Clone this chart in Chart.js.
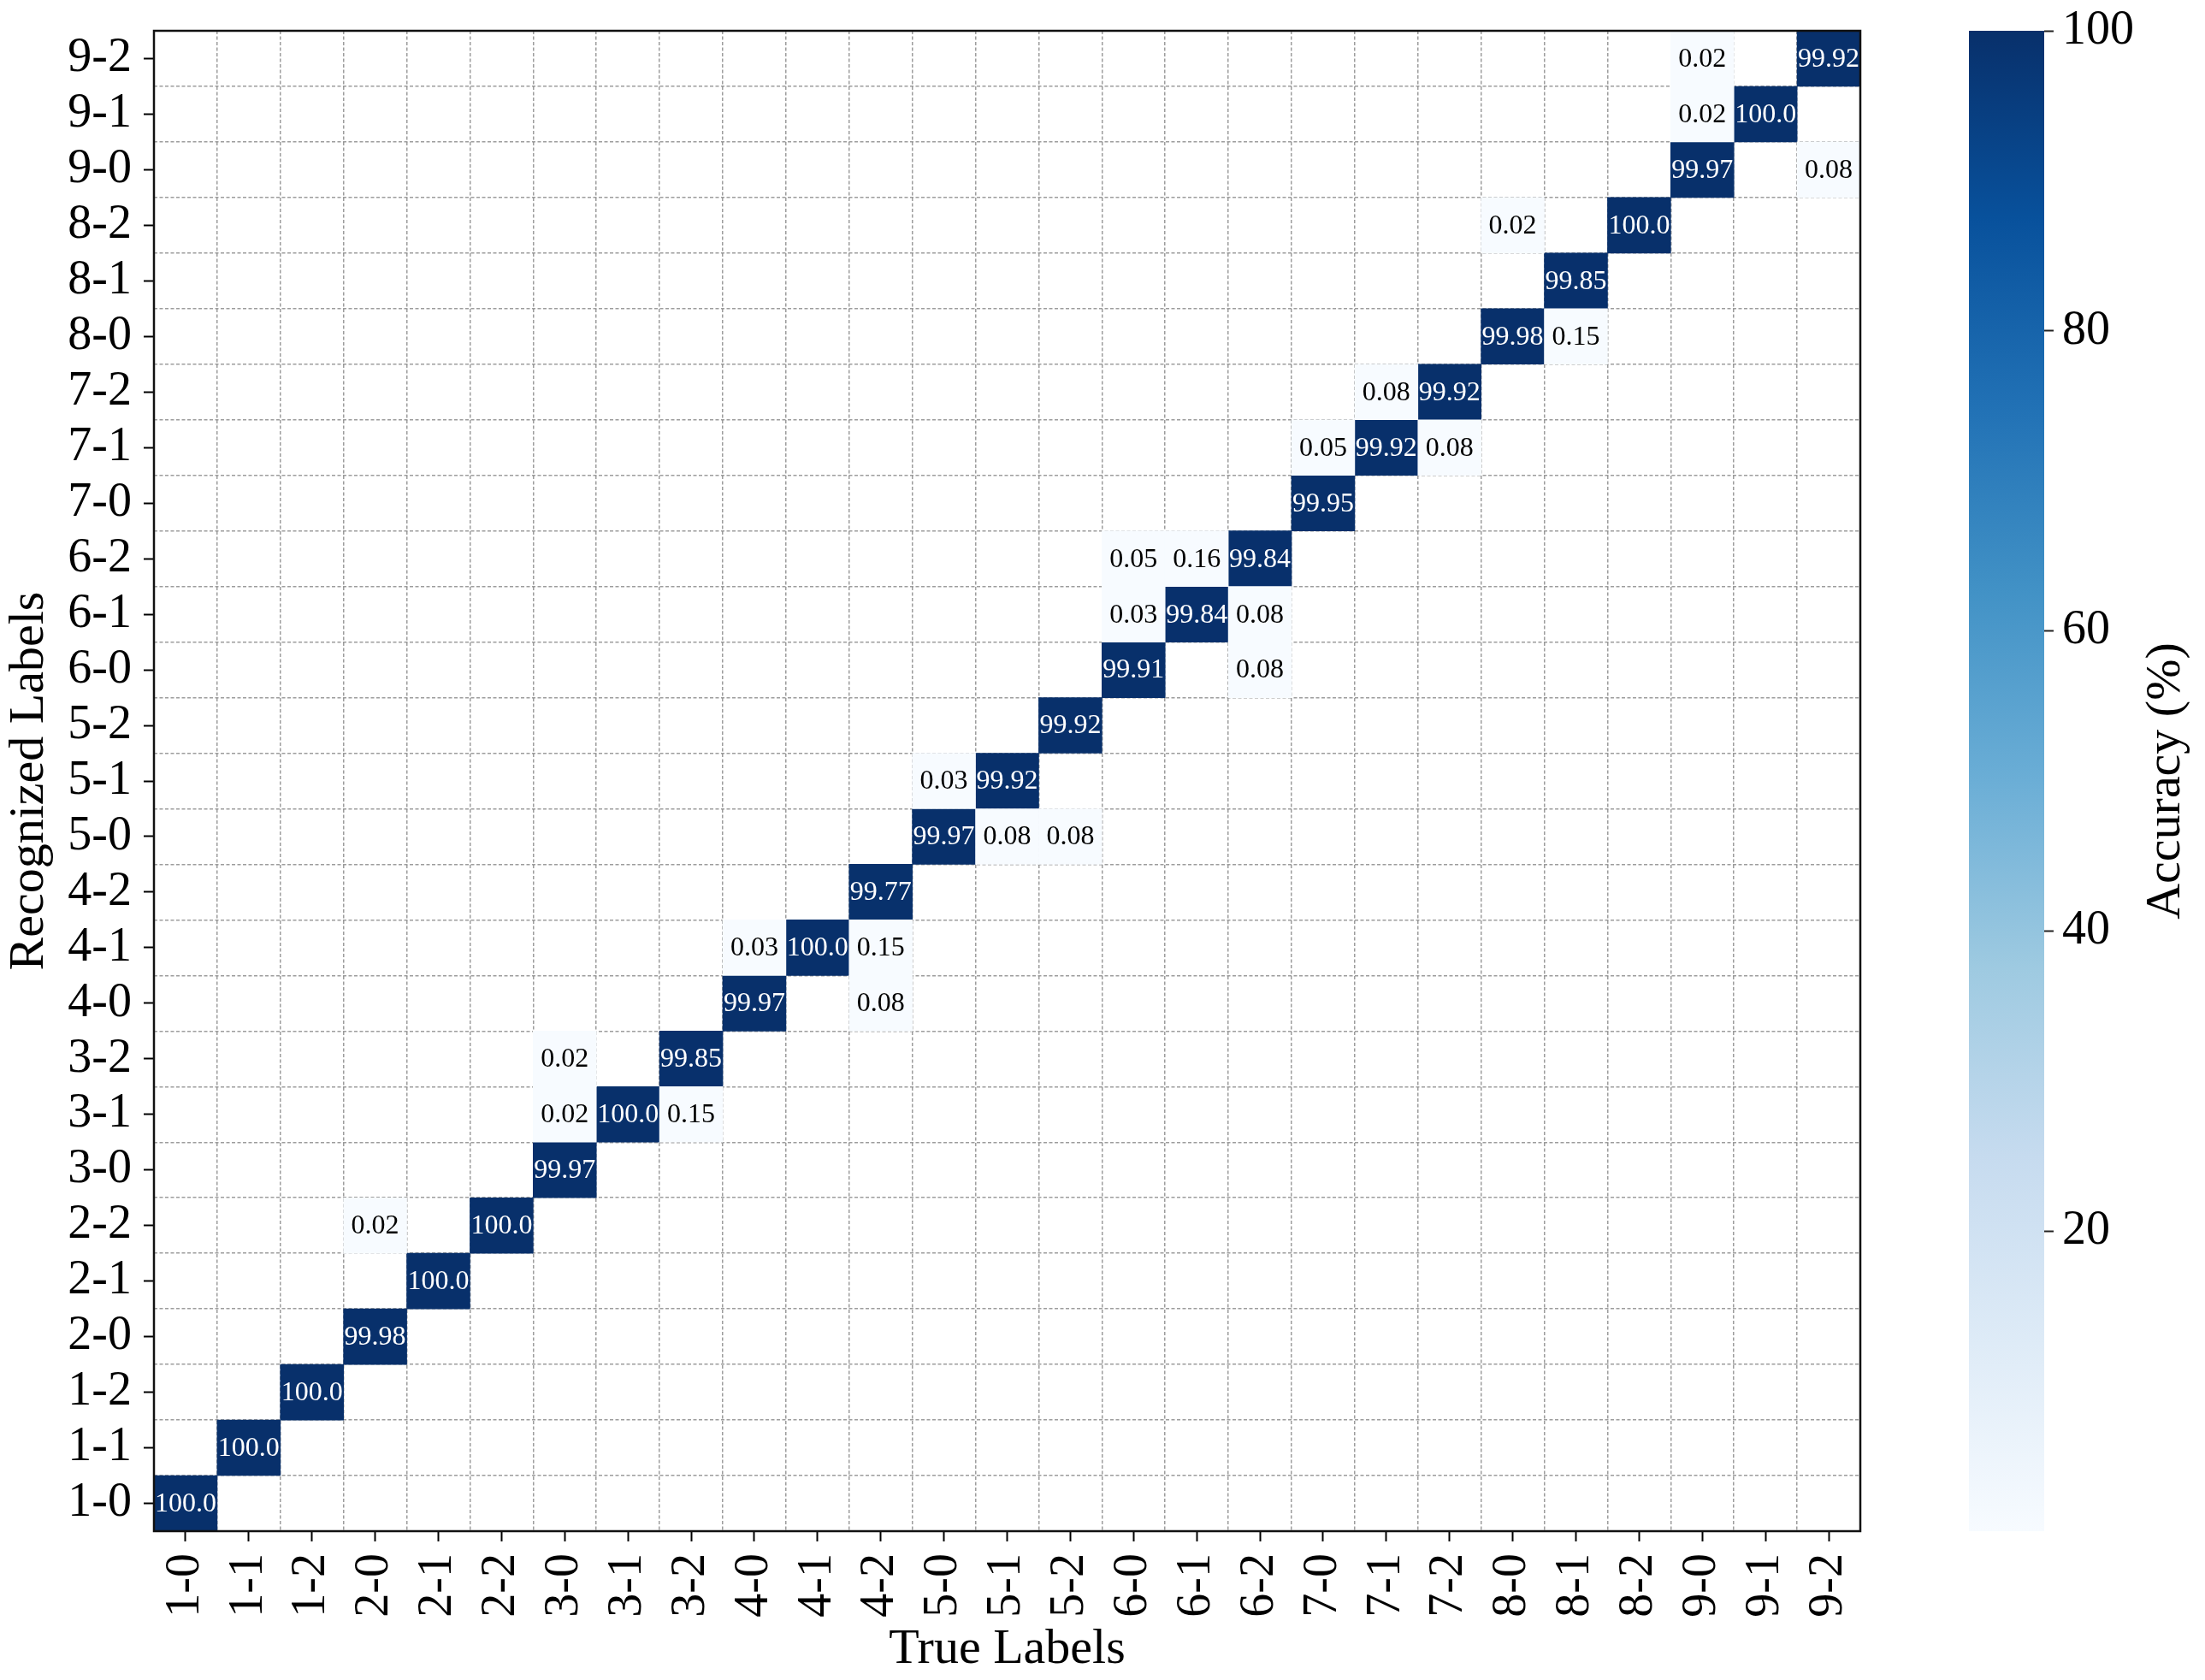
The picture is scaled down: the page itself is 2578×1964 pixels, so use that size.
<!DOCTYPE html>
<html>
<head>
<meta charset="utf-8">
<script src="https://cdn.jsdelivr.net/npm/chart.js@4/dist/chart.umd.min.js"></script>
<style>
  html, body { margin: 0; padding: 0; background: #fff; }
  #wrap { position: relative; width: 2578px; height: 1964px; }
  #cm { position: absolute; left: 0; top: 0; }
  #cb { position: absolute; left: 2200px; top: 0; }
</style>
</head>
<body>
<div id="wrap">
  <canvas id="cm" width="2578" height="1964"></canvas>
  <canvas id="cb" width="378" height="1964"></canvas>
</div>
<script>
// class names, used for both axes (rows go bottom -> top)
const classLabels = ['1-0', '1-1', '1-2', '2-0', '2-1', '2-2', '3-0', '3-1', '3-2',
    '4-0', '4-1', '4-2', '5-0', '5-1', '5-2', '6-0', '6-1', '6-2',
    '7-0', '7-1', '7-2', '8-0', '8-1', '8-2', '9-0', '9-1', '9-2'];

// accuracy on the diagonal, same order as classLabels
const diagonalAccuracy = [100.0, 100.0, 100.0, 99.98, 100.0, 100.0, 99.97, 100.0, 99.85,
    99.97, 100.0, 99.77, 99.97, 99.92, 99.92, 99.91, 99.84, 99.84,
    99.95, 99.92, 99.92, 99.98, 99.85, 100.0, 99.97, 100.0, 99.92];

// misclassifications
const offTrue = ['2-0', '3-0', '3-0', '3-2', '4-0', '4-2', '4-2', '5-0', '5-1', '5-2',
    '6-0', '6-1', '6-0', '6-2', '6-2', '7-0', '7-1', '7-2', '8-0', '8-1', '9-0', '9-0', '9-2'];
const offRecognized = ['2-2', '3-2', '3-1', '3-1', '4-1', '4-1', '4-0', '5-1', '5-0', '5-0',
    '6-2', '6-2', '6-1', '6-1', '6-0', '7-1', '7-2', '7-1', '8-2', '8-0', '9-2', '9-1', '9-0'];
const offAccuracy = [0.02, 0.02, 0.02, 0.15, 0.03, 0.15, 0.08, 0.03, 0.08, 0.08,
    0.05, 0.16, 0.03, 0.08, 0.08, 0.05, 0.08, 0.08, 0.02, 0.15, 0.02, 0.02, 0.08];

const colorbarTicks = [20, 40, 60, 80, 100];

// matplotlib "Blues"
const blues = ['#f7fbff', '#deebf7', '#c6dbef', '#9ecae1', '#6baed6', '#4292c6', '#2171b5', '#08519c', '#08306b'];

const FONT = 'Liberation Serif';
Chart.defaults.font.family = FONT;
Chart.defaults.color = '#000';

let cells = [];
classLabels.forEach((lab, i) => {
    cells.push({ x: lab, r: lab, v: diagonalAccuracy[i] });
});
offTrue.forEach((lab, i) => {
    cells.push({ x: lab, r: offRecognized[i], v: offAccuracy[i] });
});

let allValues = cells.map(c => c.v);
let vmin = Math.min(...allValues);
let vmax = 100;

function hexRgb(h) {
    return [parseInt(h.slice(1, 3), 16), parseInt(h.slice(3, 5), 16), parseInt(h.slice(5, 7), 16)];
}
function blueFor(v) {
    let t = (v - vmin) / (vmax - vmin);
    t = Math.max(0, Math.min(1, t));
    let pos = t * (blues.length - 1);
    let i = Math.min(Math.floor(pos), blues.length - 2);
    let f = pos - i;
    let a = hexRgb(blues[i]), b = hexRgb(blues[i + 1]);
    let c = a.map((x, k) => Math.round(x + (b[k] - x) * f));
    return 'rgb(' + c.join(',') + ')';
}
function fmt(v) {
    return Number.isInteger(v) ? v.toFixed(1) : v.toFixed(2);
}

let barData = cells.map(c => {
    let row = classLabels.indexOf(c.r);
    return { x: c.x, y: [row, row + 1] };
});

const gridGrey = 'rgba(140,140,140,0.85)';

const cellText = {
    id: 'cellText',
    afterDatasetsDraw(chart) {
        let ctx = chart.ctx;
        let meta = chart.getDatasetMeta(0);
        ctx.save();
        ctx.font = '32px "' + FONT + '"';
        ctx.textAlign = 'center';
        ctx.textBaseline = 'middle';
        meta.data.forEach((bar, i) => {
            let v = cells[i].v;
            let p = bar.getProps(['x', 'y', 'base'], true);
            ctx.fillStyle = v > 50 ? '#fff' : '#000';
            ctx.fillText(fmt(v), p.x, (p.y + p.base) / 2 + 1);
        });
        ctx.restore();
    }
};

const frame = {
    id: 'frame',
    afterDatasetsDraw(chart) {
        let a = chart.chartArea;
        let ctx = chart.ctx;
        ctx.save();
        ctx.strokeStyle = '#111';
        ctx.lineWidth = 2.5;
        ctx.strokeRect(a.left, a.top, a.right - a.left, a.bottom - a.top);
        ctx.restore();
    }
};

new Chart(document.getElementById('cm').getContext('2d'), {
    type: 'bar',
    data: {
        datasets: [{
            data: barData,
            xAxisID: 'x',
            yAxisID: 'y',
            backgroundColor: cells.map(c => blueFor(c.v)),
            borderWidth: 0,
            barPercentage: 1,
            categoryPercentage: 1,
            grouped: false
        }]
    },
    options: {
        responsive: false,
        animation: false,
        layout: { padding: { left: 0, top: 36, right: 403, bottom: 0 } },
        plugins: { legend: { display: false }, tooltip: { enabled: false } },
        scales: {
            x: {
                type: 'category',
                labels: classLabels,
                position: 'bottom',
                offset: true,
                grid: { offset: false, drawOnChartArea: false, tickLength: 12, tickWidth: 2, tickColor: '#000' },
                border: { display: false },
                ticks: { autoSkip: false, minRotation: 90, maxRotation: 90, padding: 14, font: { size: 56 }, color: '#000' },
                title: { display: true, text: 'True Labels', font: { size: 58 }, color: '#000', padding: { top: 0, bottom: 0 } },
                afterFit(s) { s.height = 174; s.paddingLeft = 0; s.paddingRight = 0; }
            },
            xg: {
                type: 'category',
                labels: classLabels,
                position: 'top',
                offset: true,
                grid: { offset: true, drawTicks: false, color: gridGrey, lineWidth: 1.5 },
                border: { display: false, dash: [4, 2.5] },
                ticks: { display: false },
                afterFit(s) { s.height = 0; s.paddingLeft = 0; s.paddingRight = 0; }
            },
            y: {
                type: 'linear',
                position: 'left',
                min: 0,
                max: classLabels.length,
                ticks: { display: false, stepSize: 1 },
                grid: { drawTicks: false, color: gridGrey, lineWidth: 1.5 },
                border: { display: false, dash: [4, 2.5] },
                afterFit(s) { s.width = 0; s.paddingTop = 0; s.paddingBottom = 0; }
            },
            yl: {
                type: 'category',
                labels: classLabels,
                reverse: true,
                position: 'left',
                offset: true,
                grid: { offset: false, drawOnChartArea: false, tickLength: 12, tickWidth: 2, tickColor: '#000' },
                border: { display: false },
                ticks: { autoSkip: false, padding: 14, font: { size: 56 }, color: '#000' },
                title: { display: true, text: 'Recognized Labels', font: { size: 58 }, color: '#000', padding: { top: 0, bottom: 0 } },
                afterFit(s) { s.width = 180; s.paddingTop = 0; s.paddingBottom = 0; }
            }
        }
    },
    plugins: [cellText, frame]
});

// colour bar
const cbTitle = {
    id: 'cbTitle',
    afterDraw(chart) {
        let ys = chart.scales.y;
        let ctx = chart.ctx;
        ctx.save();
        ctx.translate(ys.right - 45, (ys.top + ys.bottom) / 2);
        ctx.rotate(-Math.PI / 2);
        ctx.font = '58px "' + FONT + '"';
        ctx.textAlign = 'center';
        ctx.textBaseline = 'middle';
        ctx.fillStyle = '#000';
        ctx.fillText('Accuracy (%)', 0, 0);
        ctx.restore();
    }
};

new Chart(document.getElementById('cb').getContext('2d'), {
    type: 'bar',
    data: {
        labels: [''],
        datasets: [{
            data: [[vmin, vmax]],
            borderWidth: 0,
            barPercentage: 1,
            categoryPercentage: 1,
            backgroundColor(c) {
                let chart = c.chart;
                let ys = chart.scales.y;
                if (!chart.chartArea || !ys) return blues[blues.length - 1];
                let g = chart.ctx.createLinearGradient(0, ys.getPixelForValue(vmin), 0, ys.getPixelForValue(vmax));
                blues.forEach((col, i) => g.addColorStop(i / (blues.length - 1), col));
                return g;
            }
        }]
    },
    options: {
        responsive: false,
        animation: false,
        layout: { padding: { left: 102, top: 36, right: 0, bottom: 174 } },
        plugins: { legend: { display: false }, tooltip: { enabled: false } },
        scales: {
            x: { display: false },
            y: {
                position: 'right',
                min: vmin,
                max: vmax,
                afterBuildTicks(s) { s.ticks = colorbarTicks.map(v => ({ value: v })); },
                ticks: { padding: 10, font: { size: 56 }, color: '#000' },
                grid: { drawOnChartArea: false, tickLength: 11, tickWidth: 2, tickColor: '#222' },
                border: { display: false },
                afterFit(s) { s.width = 188; s.paddingTop = 0; s.paddingBottom = 0; }
            }
        }
    },
    plugins: [cbTitle]
});
</script>
</body>
</html>
